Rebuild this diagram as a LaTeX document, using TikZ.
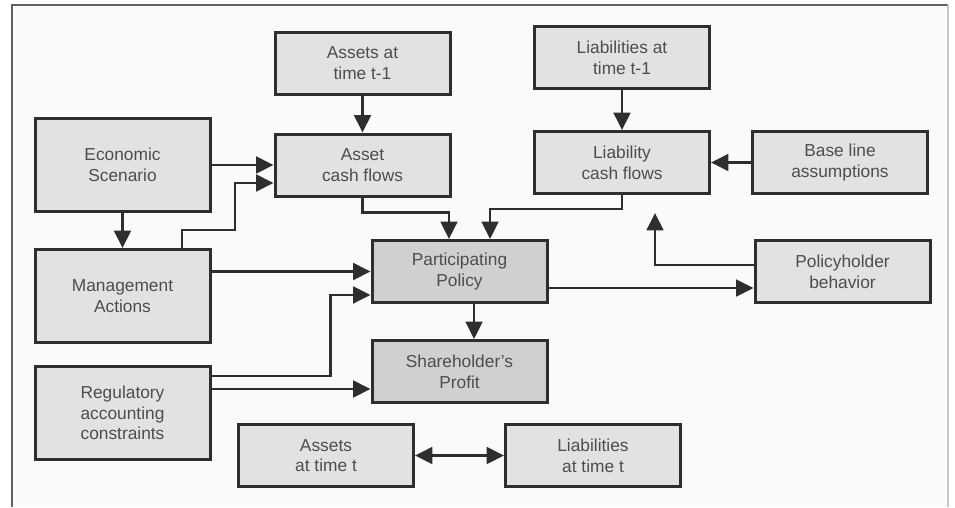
\documentclass[tikz,border=0pt]{standalone}
\usepackage{fontspec}
\setmainfont{Liberation Sans}
\usepackage{xcolor}
\usepackage{tikz}
\usetikzlibrary{shapes,arrows,positioning,calc,arrows.meta}

\definecolor{boxfill}{HTML}{E2E2E2}
\definecolor{boxdark}{HTML}{D0D0D0}
\definecolor{boxline}{HTML}{2E2E2E}
\definecolor{boxtext}{HTML}{4D4D4D}

\begin{document}
\begin{tikzpicture}[x=0.75pt, y=-0.75pt, >={Triangle[length=13pt,width=12.5pt]},
    risk block/.style={rectangle, draw=boxline, line width=2.25pt, fill=boxfill, text=boxtext,
        minimum width=131.25pt, minimum height=46.5pt, inner sep=2pt, align=center,
        font=\fontsize{13}{15.5}\selectfont},
    risk tall/.style={minimum height=69.75pt},
    risk arrow/.style={->, line width=2pt, draw=boxline}]

    \useasboundingbox (0,0) rectangle (955,507);
    \fill [white!98!black] (12,5) rectangle (948,507);
    \draw [line width=1.5pt, gray!75!black] (12,507) -- (12,5) -- (948,5);
    \draw [line width=1pt, gray!45] (948,5) -- (948,507);

    % left column
    \node [risk block, risk tall] (econ) at (122.5,165) {Economic\\Scenario};
    \node [risk block, risk tall, below=26.25pt of econ] (mgmt) {Management\\Actions};
    \node [risk block, risk tall, below=15.75pt of mgmt] (reg) {Regulatory\\accounting\\constraints};

    % assets
    \node [risk block, right=46.5pt of econ] (acf) {Asset\\cash flows};
    \node [risk block, above=27.75pt of acf] (assets1) {Assets at\\time t-1};

    % liabilities
    \node [risk block] (lcf) at (622,162.5) {Liability\\cash flows};
    \node [risk block, above=30pt of lcf] (liab1) {Liabilities at\\time t-1};
    \node [risk block, right=30pt of lcf] (base) {Base line\\assumptions};

    % centre
    \node [risk block, fill=boxdark] (part) at (459.5,271.5) {Participating\\Policy};
    \node [risk block, fill=boxdark, below=26.25pt of part] (profit) {Shareholder's\\Profit};
    \node [risk block, right=153.75pt of part] (holder) {Policyholder\\behavior};

    % time t
    \node [risk block] (assets) at (326,455.5) {Assets\\at time t};
    \node [risk block, right=66.75pt of assets] (liab) {Liabilities\\at time t};

    \coordinate (lcfgap) at ([xshift=24.75pt,yshift=-13.5pt]lcf.south);

    \draw [risk arrow] (assets1) -- (acf);
    \draw [risk arrow] (econ) -- (acf);
    \draw [risk arrow] ([xshift=44.6pt]mgmt.north) -- ++(0,-18) -- ++(53,0) |- ([yshift=-13.5pt]acf.west);
    \draw [risk arrow] (econ) -- (mgmt);
    \draw [risk arrow] (acf.south) -- ++(0,15) -| ([xshift=-7.9pt]part.north);
    \draw [risk arrow] (lcf.south) -- ++(0,14) -| ([xshift=22.9pt]part.north);
    \draw [risk arrow] (base) -- (lcf);
    \draw [risk arrow] (liab1) -- (lcf);
    \draw [risk arrow] ([yshift=4.9pt]holder.west) -| (lcfgap);
    \draw [risk arrow] ([yshift=-12.4pt]part.east) -- ([yshift=-12.4pt]holder.west);
    \draw [risk arrow] (mgmt.east |- part.west) -- (part.west);
    \draw [risk arrow] ([yshift=27.75pt]reg.east) -- ++(119,0) |- ([yshift=-17.6pt]part.west);
    \draw [risk arrow] ([yshift=18pt]reg.east) -- ([yshift=18pt]reg.east -| profit.west);
    \draw [risk arrow] ([xshift=10.9pt]part.south) -- ([xshift=10.9pt]profit.north);
    \draw [risk arrow, <->] (assets) -- (liab);

\end{tikzpicture}
\end{document}
